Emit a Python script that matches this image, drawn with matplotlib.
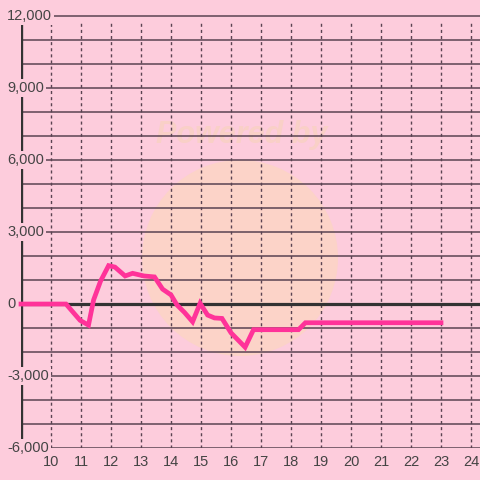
import matplotlib
matplotlib.use("Agg")
import matplotlib.pyplot as plt
from matplotlib.transforms import blended_transform_factory
from matplotlib.patches import Circle

# ---- data ----
x_vals = [9.0, 10.5, 10.97, 11.25, 11.42, 11.65, 11.92, 12.13, 12.47, 12.72, 13.1, 13.45,
          13.72, 14.0, 14.2, 14.45, 14.72, 14.97, 15.22, 15.45, 15.7, 16.0, 16.47, 16.75,
          18.25, 18.48, 23.0]
y_vals = [0, 0, -680, -880, 170, 950, 1600, 1540, 1170, 1280, 1170, 1130,
          620, 380, -40, -350, -740, 30, -460, -580, -600, -1200, -1800, -1070,
          -1070, -780, -780]
x_ticks = list(range(10, 25))
y_ticks = [-6000, -3000, 0, 3000, 6000, 9000, 12000]
y_grid = list(range(-6000, 12001, 1000))
y_tick_labels = ["-6,000", "-3,000", "0", "3,000", "6,000", "9,000", "12,000"]

BG = "#fdccdc"
LINE = "#ff3399"
GRID = "#5a4352"
DARK = "#333333"
TXT = "#444444"

fig = plt.figure(figsize=(4.8, 4.8), dpi=100, facecolor=BG)

# background / watermark layer
bg = fig.add_axes([0, 0, 1, 1], zorder=0)
bg.set_xlim(0, 480)
bg.set_ylim(480, 0)
bg.axis("off")
bg.add_patch(Circle((240, 258), 98, facecolor="#fcd3c8", edgecolor="none"))
bg.text(242, 143, "Powered by", ha="center", va="baseline", fontsize=22,
        fontweight="bold", fontstyle="italic", color="#f9d0c7", family="Liberation Sans")

ax = fig.add_axes([21 / 480, 32 / 480, 459 / 480, 448 / 480], zorder=1)
ax.patch.set_visible(False)
ax.set_xlim(9.0, 24.3)
ax.set_ylim(-6000, 12670)
for s in ax.spines.values():
    s.set_visible(False)
ax.set_xticks([])
ax.set_yticks([])

# horizontal grid lines
for yv in y_grid:
    if yv == 0:
        continue
    ax.axhline(yv, color=GRID, lw=1.1, zorder=1)
# vertical dotted lines
ax.vlines(x_ticks, -6000, 11700, colors=GRID, lw=1.0, linestyles=(0, (2.2, 2.2)), zorder=1)
# zero line and left spine
ax.axhline(0, color=DARK, lw=2.3, zorder=2)
ax.vlines([9.0], -6000, 11700, colors=DARK, lw=2.4, zorder=2)

# data line
ax.plot(x_vals, y_vals, color=LINE, lw=3.4, solid_joinstyle="miter", zorder=3,
        clip_on=False)

# y tick labels (left aligned, overlaid with background box)
ytr = blended_transform_factory(fig.transFigure, ax.transData)
for yv, lab in zip(y_ticks, y_tick_labels):
    ax.text(7 / 480, yv, lab, transform=ytr, ha="left", va="center",
            fontsize=10.5, color=TXT, family="Liberation Sans", zorder=5,
            bbox=dict(boxstyle="square,pad=0.12", facecolor=BG, edgecolor="none"))

# x tick labels
xtr = blended_transform_factory(ax.transData, fig.transFigure)
for xv in x_ticks:
    ax.text(xv, 1 - 462 / 480, str(xv), transform=xtr, ha="center", va="center",
            fontsize=10.5, color=TXT, family="Liberation Sans", zorder=5)

fig.savefig("out.png", dpi=100, facecolor=BG)
